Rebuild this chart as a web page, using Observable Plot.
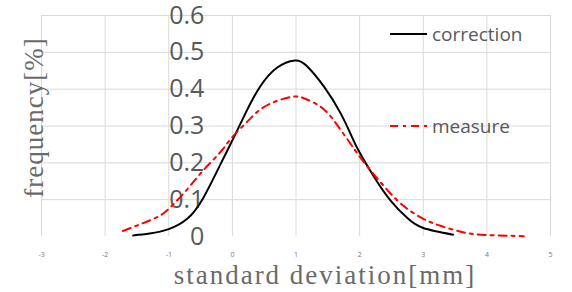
<!DOCTYPE html>
<html>
<head>
<meta charset="utf-8">
<script src="https://cdn.jsdelivr.net/npm/d3@7"></script>
<script src="https://cdn.jsdelivr.net/npm/@observablehq/plot@0.6"></script>
<style>
  html, body { margin: 0; padding: 0; background: #fff; }
  #wrap { position: relative; width: 572px; height: 292px; overflow: hidden; }
  .leg { position: absolute; left: 390px; height: 24px; display: flex; align-items: center;
         font-family: "Open Sans", sans-serif; font-size: 19px; color: #595959; }
  .leg svg { display: block; margin-right: 5px; }
</style>
</head>
<body>
<div id="wrap"></div>
<script>
// x ticks and y ticks
const xTicks = [-3, -2, -1, 0, 1, 2, 3, 4, 5];
const yTicks = [0, 0.1, 0.2, 0.3, 0.4, 0.5, 0.6];
const yGrid = [0.1, 0.2, 0.3, 0.4, 0.5, 0.6];

// series: correction (black solid)
const corrX = [-1.56, -1.3, -1.0, -0.71, -0.46, -0.19, 0, 0.23, 0.44, 0.7, 0.98, 1.17, 1.44, 1.7, 1.88, 2.0, 2.23, 2.49, 2.75, 3.0, 3.47];
const corrY = [0.003, 0.008, 0.02, 0.048, 0.104, 0.195, 0.261, 0.343, 0.408, 0.458, 0.478, 0.463, 0.407, 0.335, 0.27, 0.228, 0.161, 0.097, 0.05, 0.023, 0.005];

// series: measure (red dash-dot)
const measX = [-1.72, -1.24, -1.0, -0.71, -0.46, -0.19, 0, 0.23, 0.44, 0.7, 0.98, 1.17, 1.44, 1.7, 1.93, 2.13, 2.49, 2.75, 3.0, 3.27, 3.64, 4.0, 4.58];
const measY = [0.015, 0.048, 0.075, 0.128, 0.179, 0.229, 0.27, 0.311, 0.345, 0.368, 0.38, 0.372, 0.345, 0.29, 0.234, 0.188, 0.116, 0.075, 0.048, 0.029, 0.011, 0.004, 0.001];

const seriesNames = ["correction", "measure"];
const xTitle = "standard deviation[mm]";
const yTitle = "frequency[%]";

const corr = corrX.map((x, i) => ({x, y: corrY[i]}));
const meas = measX.map((x, i) => ({x, y: measY[i]}));

const grid = "#d9d9d9";
const plot = Plot.plot({
  width: 572,
  height: 292,
  marginLeft: 41,
  marginRight: 22,
  marginTop: 15,
  marginBottom: 56,
  x: {domain: [-3, 5], axis: null},
  y: {domain: [0, 0.6], axis: null},
  style: {background: "#fff", overflow: "visible"},
  marks: [
    Plot.ruleX(xTicks, {x: d => d, y1: 0, y2: 0.6, stroke: grid, strokeWidth: 1}),
    Plot.ruleY(yGrid, {y: d => d, x1: -3, x2: 5, stroke: grid, strokeWidth: 1}),
    Plot.text(xTicks, {x: d => d, y: 0, dy: 18.5, text: d => String(d), fontSize: 7, fill: "#7a7a7a",
      fontFamily: "Open Sans, sans-serif"}),
    Plot.text(yTicks, {x: 0, y: d => d, dx: -28, text: d => String(d), textAnchor: "end", fontSize: 25,
      fill: "#595959", fontFamily: "Open Sans, sans-serif"}),
    Plot.line(corr, {x: "x", y: "y", stroke: "#000", strokeWidth: 2, curve: "natural"}),
    Plot.line(meas, {x: "x", y: "y", stroke: "#ff0000", strokeWidth: 2, strokeDasharray: "8,5,3,5", curve: "natural"}),
    Plot.text([xTitle], {frameAnchor: "bottom", textAnchor: "middle", lineAnchor: "middle", dx: 29, dy: 38.7,
      fontSize: 27, fill: "#6a6a6a", fontFamily: "Liberation Serif, serif"}),
    Plot.text([yTitle], {frameAnchor: "left", textAnchor: "middle", lineAnchor: "middle", rotate: -90, dx: -7.6, dy: -8.5,
      fontSize: 27, fill: "#6a6a6a", fontFamily: "Liberation Serif, serif"})
  ]
});
document.getElementById("wrap").appendChild(plot);
d3.select(plot).selectAll("text").each(function() {
  if (this.textContent === xTitle) this.style.letterSpacing = "2px";
  if (this.textContent === yTitle) this.style.letterSpacing = "1px";
});

// legend
const legTops = [22, 114];
const legStyles = [
  {stroke: "#000", dash: null},
  {stroke: "#ff0000", dash: "8,5,3,5"}
];
seriesNames.forEach((name, i) => {
  const div = document.createElement("div");
  div.className = "leg";
  div.style.top = legTops[i] + "px";
  const s = legStyles[i];
  div.innerHTML = `<svg width="37" height="6"><line x1="0" x2="37" y1="3" y2="3" stroke="${s.stroke}" stroke-width="2" ${s.dash ? `stroke-dasharray="${s.dash}"` : ""}/></svg><span>${name}</span>`;
  document.getElementById("wrap").appendChild(div);
});
</script>
</body>
</html>
